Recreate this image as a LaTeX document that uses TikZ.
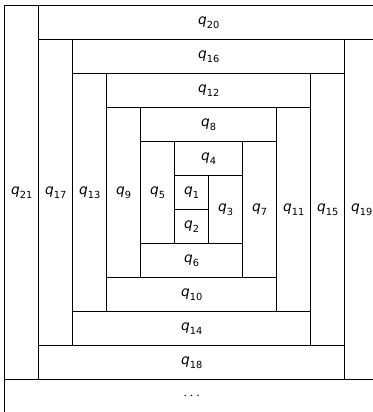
\documentclass[tikz,border=0pt]{standalone}
\usepackage{fontspec}
\setmainfont{DejaVu Sans}
\newcommand\qlab[1]{\textit{q}\raisebox{-0.28em}{\fontsize{8.2}{9}\selectfont #1}}
\newcommand\cellbox[6]{%
  \node[cellstyle, minimum width={(#3-#1)*1cm}, minimum height={(#4-#2)*1cm}]
    (#6) at ({(#1+#3)/2},{-(#2+#4)/2}) {#5};}
\tikzset{cellstyle/.style={draw=black, line width=0.8pt, inner sep=0pt, outer sep=0pt, font=\fontsize{11.5}{13}\selectfont}}
\begin{document}
\begin{tikzpicture}
\useasboundingbox (-0.138,0.168) rectangle (10.832,-11.95);
\cellbox{0}{11}{11}{12}{$\cdots$}{dots}
\cellbox{0}{0}{1}{11}{\qlab{21}}{q21}
\cellbox{1}{0}{11}{1}{\qlab{20}}{q20}
\cellbox{10}{1}{11}{11}{\qlab{19}}{q19}
\cellbox{1}{10}{10}{11}{\qlab{18}}{q18}
\cellbox{1}{1}{2}{10}{\qlab{17}}{q17}
\cellbox{2}{1}{10}{2}{\qlab{16}}{q16}
\cellbox{9}{2}{10}{10}{\qlab{15}}{q15}
\cellbox{2}{9}{9}{10}{\qlab{14}}{q14}
\cellbox{2}{2}{3}{9}{\qlab{13}}{q13}
\cellbox{3}{2}{9}{3}{\qlab{12}}{q12}
\cellbox{8}{3}{9}{9}{\qlab{11}}{q11}
\cellbox{3}{8}{8}{9}{\qlab{10}}{q10}
\cellbox{3}{3}{4}{8}{\qlab{9}}{q9}
\cellbox{4}{3}{8}{4}{\qlab{8}}{q8}
\cellbox{7}{4}{8}{8}{\qlab{7}}{q7}
\cellbox{4}{7}{7}{8}{\qlab{6}}{q6}
\cellbox{4}{4}{5}{7}{\qlab{5}}{q5}
\cellbox{5}{4}{7}{5}{\qlab{4}}{q4}
\cellbox{6}{5}{7}{7}{\qlab{3}}{q3}
\cellbox{5}{6}{6}{7}{\qlab{2}}{q2}
\cellbox{5}{5}{6}{6}{\qlab{1}}{q1}
\end{tikzpicture}
\end{document}
